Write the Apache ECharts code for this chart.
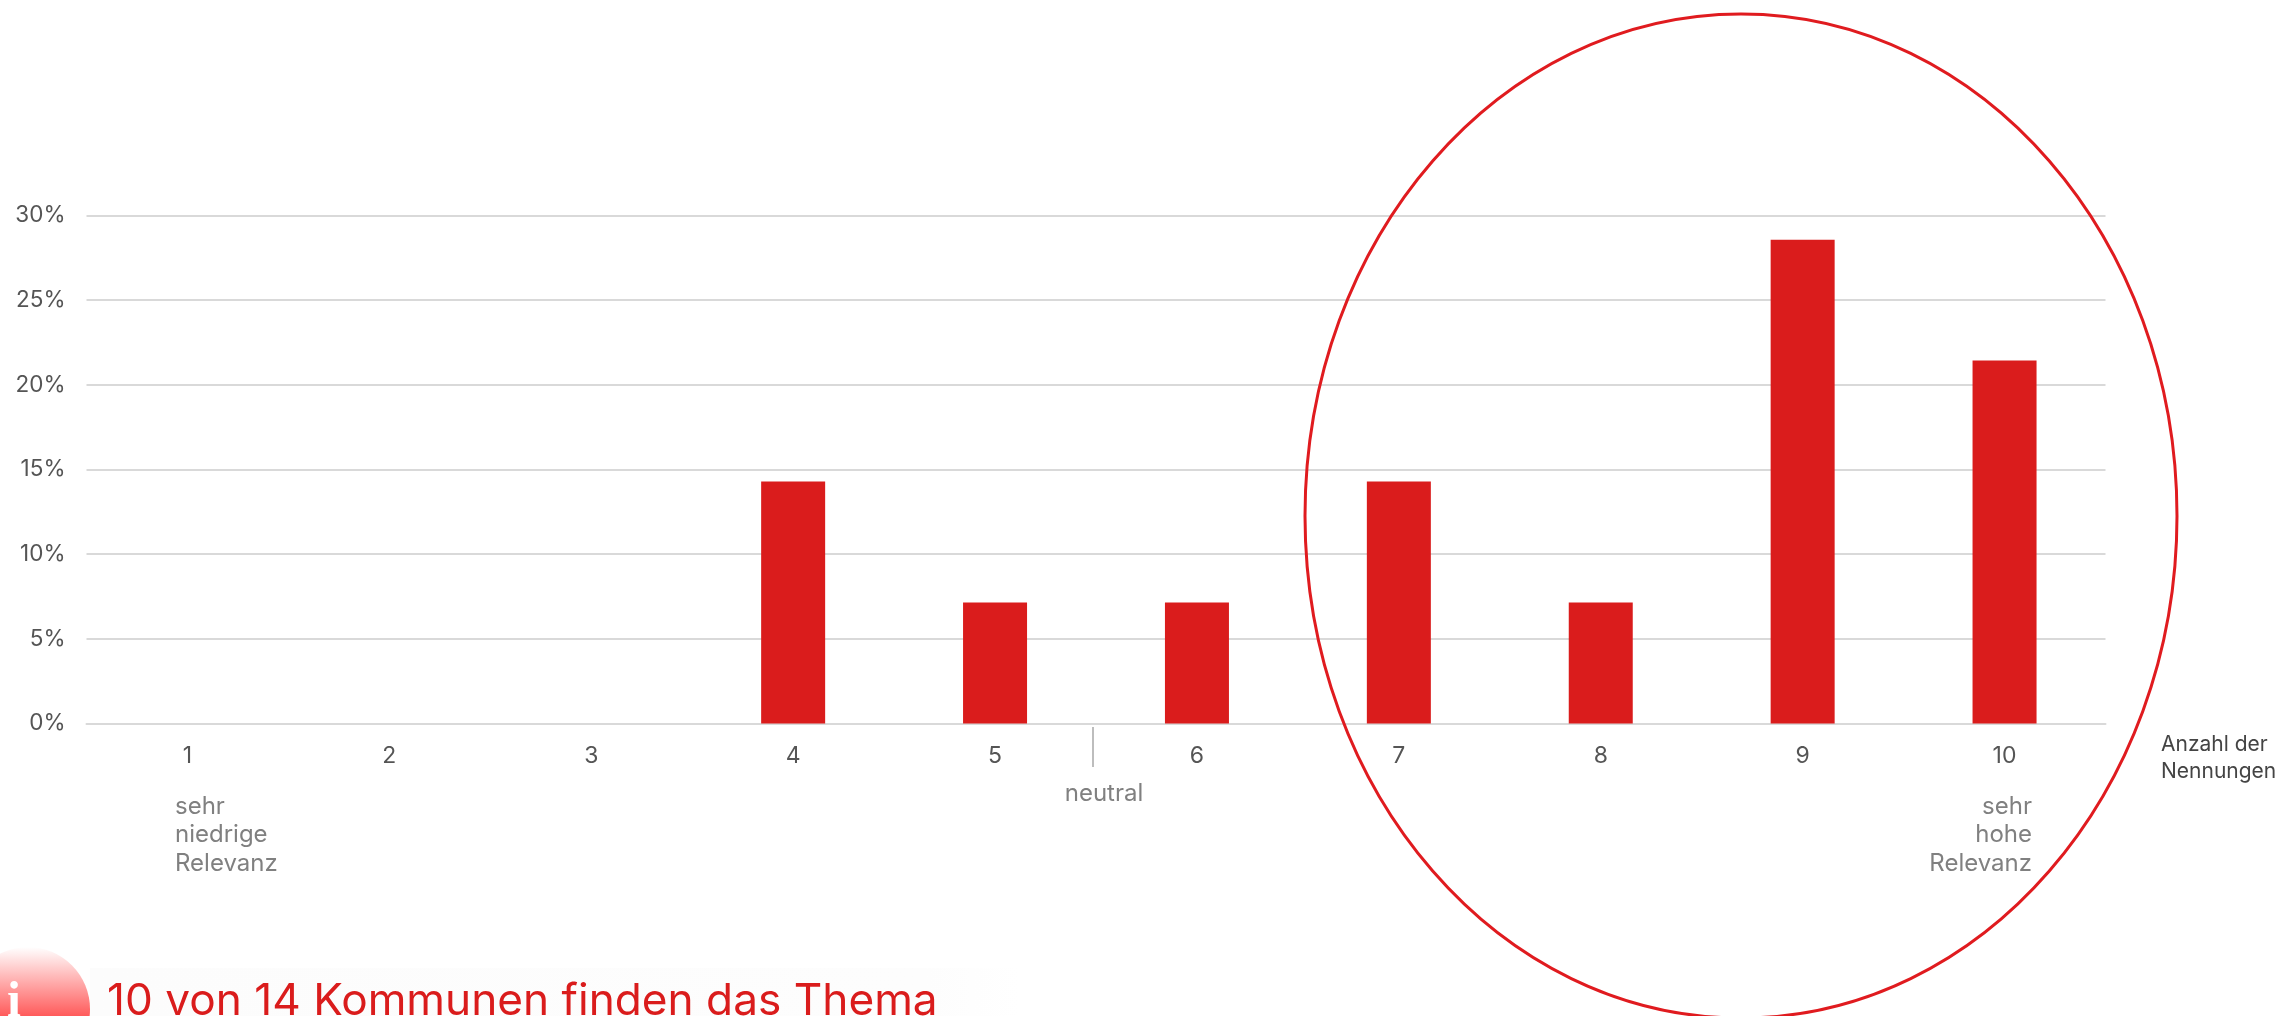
<!DOCTYPE html>
<html><head><meta charset="utf-8">
<style>html,body{margin:0;padding:0;background:#fff;overflow:hidden}#c{width:2280px;height:1016px}</style>
<script src="https://cdn.jsdelivr.net/npm/echarts@6/dist/echarts.min.js"></script>
</head><body><div id="c"></div>
<script>
const categories = ['1','2','3','4','5','6','7','8','9','10'];
const shares = [0,0,0,14.29,7.14,7.14,14.29,7.14,28.57,21.43];
const yTicks = {min:0,max:30,interval:5};
const lowNote = 'sehr\nniedrige\nRelevanz';
const highNote = 'sehr\nhohe\nRelevanz';
const neutralNote = 'neutral';
const unitNote = 'Anzahl der\nNennungen';
const takeaway = '10 von 14 Kommunen finden das Thema';

const FONT = 'Inter';
const RED = '#da1c1c';
const chart = echarts.init(document.getElementById('c'), null, {renderer:'canvas'});
chart.setOption({
  animation:false,
  backgroundColor:'#fff',
  grid:{left:86.5,right:174.5,top:215.5,bottom:292.5,containLabel:false},
  xAxis:{type:'category',data:categories,
    axisLine:{lineStyle:{color:'#d9d9d9',width:2}},axisTick:{show:false},
    axisLabel:{color:'#555',fontFamily:FONT,fontSize:23,margin:21}},
  yAxis:{type:'value',min:yTicks.min,max:yTicks.max,interval:yTicks.interval,
    axisLine:{show:false},axisTick:{show:false},
    splitLine:{lineStyle:{color:'#d9d9d9',width:2}},
    axisLabel:{color:'#555',fontFamily:FONT,fontSize:22.5,margin:21,padding:[5,0,0,0],formatter:'{value}%'}},
  series:[{type:'bar',data:shares,barWidth:64,itemStyle:{color:RED},silent:true}],
  graphic:[
    {type:'rect',z:0,shape:{x:90,y:968,width:930,height:48},
      style:{fill:new echarts.graphic.LinearGradient(0,0,1,0,[{offset:0,color:'#fcfcfc'},{offset:.9,color:'#fdfdfd'},{offset:1,color:'#ffffff'}])}},
    {type:'ellipse',z:10,shape:{cx:1741,cy:516,rx:436,ry:502},style:{fill:'none',stroke:'#e01b1f',lineWidth:3}},
    {type:'line',z:10,shape:{x1:1093,y1:727,x2:1093,y2:767},style:{stroke:'#bdbdbd',lineWidth:2}},
    {type:'text',z:10,x:175,y:792,style:{text:lowNote,fill:'#808080',font:'24px '+FONT,lineHeight:28.6,align:'left'}},
    {type:'text',z:10,x:2032,y:792,style:{text:highNote,fill:'#808080',font:'24px '+FONT,lineHeight:28.6,align:'right'}},
    {type:'text',z:10,x:1104,y:779,style:{text:neutralNote,fill:'#808080',font:'24px '+FONT,lineHeight:28.6,align:'center'}},
    {type:'text',z:10,x:2161,y:731.5,style:{text:unitNote,fill:'#444',font:'21px '+FONT,lineHeight:27,align:'left'}},
    {type:'circle',z:10,shape:{cx:28,cy:1009,r:62},
      style:{fill:new echarts.graphic.LinearGradient(0,0,0,1,[{offset:0,color:'#ffffff'},{offset:.56,color:'#ff5a5a'},{offset:1,color:'#ff2020'}])}},
    {type:'text',z:11,x:14,y:978,style:{text:'i',fill:'#fff',font:'bold 50px "Liberation Serif"',align:'center'}},
    {type:'text',z:11,x:107,y:980,style:{text:takeaway,fill:RED,font:'44.2px '+FONT,align:'left'}}
  ]
});
</script></body></html>
